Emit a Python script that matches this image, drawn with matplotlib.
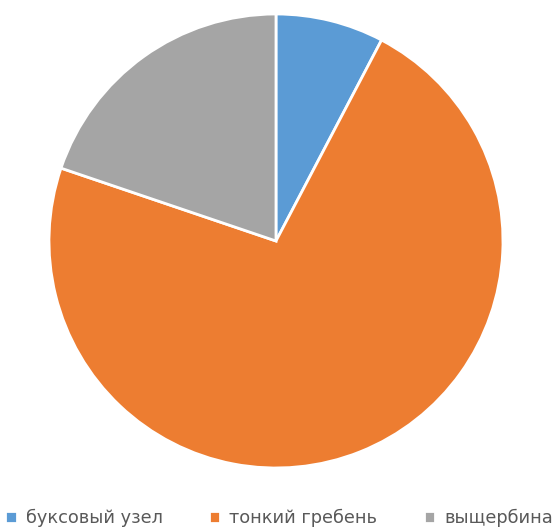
import matplotlib.pyplot as plt

labels = ["буксовый узел", "тонкий гребень", "выщербина"]
values = [7.7, 72.5, 19.8]
colors = ["#5B9BD5", "#ED7D31", "#A5A5A5"]

fig = plt.figure(figsize=(5.58, 5.30), dpi=100)
ax = fig.add_axes([0.0878, 0.117, 0.8136, 0.8566])
wedges, _ = ax.pie(values, colors=colors, startangle=90, counterclock=False,
                   radius=1, wedgeprops={"edgecolor": "white", "linewidth": 2})
ax.set_xlim(-1.0, 1.0)
ax.set_ylim(-1.0, 1.0)
ax.set_aspect("equal")

fig.legend(wedges, labels, loc="lower center", ncol=3, frameon=False,
           bbox_to_anchor=(0.5, -0.025), handlelength=0.65, handleheight=0.65,
           handletextpad=0.5, columnspacing=2.6,
           prop={"family": "DejaVu Sans", "size": 12.8}, labelcolor="#595959")

fig.savefig("out.png", dpi=100)
